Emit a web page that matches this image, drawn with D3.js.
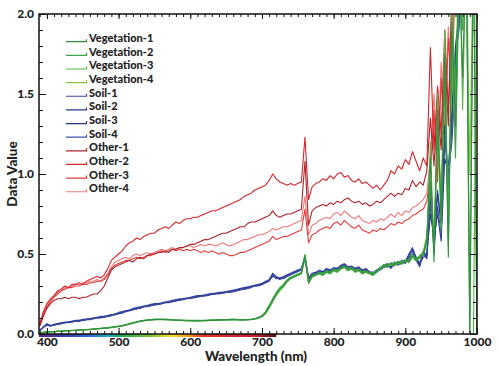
<!DOCTYPE html>
<html><head><meta charset="utf-8">
<script src="https://cdn.jsdelivr.net/npm/d3@7"></script>
<style>
body{margin:0;background:#fff;}
svg text{font-family:Lato,"Open Sans",sans-serif;font-weight:900;fill:#222;}
</style>
</head><body><svg id="chart" width="500" height="366"></svg>
<script>
const wavelengths = [390,395,400,405,410,415,420,425,430,435,440,445,450,455,460,465,470,475,480,485,490,495,500,505,510,515,520,525,530,535,540,545,550,555,560,565,570,575,580,585,590,595,600,605,610,615,620,625,630,635,640,645,650,655,660,665,670,675,680,685,690,695,700,705,710,715,720,725,730,735,740,745,750,755,760,765,770,775,780,785,790,795,800,805,810,815,820,825,830,835,840,845,850,855,860,865,870,875,880,885,890,895,900,905,910,915,920,925,930,935,940,945,950,955,960,965,970,975,980,985,990,995,1000];

const seriesNames = ["Vegetation-1","Vegetation-2","Vegetation-3","Vegetation-4","Soil-1","Soil-2","Soil-3","Soil-4","Other-1","Other-2","Other-3","Other-4"];
const seriesColors = ["#2f8f3e","#3aa845","#55b848","#86c440","#3a4aa0","#2b3990","#27338a","#4050b0","#b0232b","#d6262d","#e23d3d","#f07a7a"];

const vegetation1 = [0.005,0.01,0.012,0.014,0.015,0.017,0.018,0.02,0.02,0.022,
0.023,0.024,0.025,0.027,0.028,0.03,0.032,0.034,0.036,0.038,
0.041,0.044,0.047,0.051,0.056,0.062,0.068,0.074,0.079,0.083,
0.086,0.088,0.090,0.091,0.091,0.090,0.089,0.088,0.086,0.085,
0.084,0.083,0.083,0.082,0.082,0.083,0.083,0.084,0.085,0.086,
0.087,0.088,0.088,0.089,0.090,0.089,0.088,0.088,0.089,0.091,
0.094,0.10,0.11,0.13,0.17,0.21,0.25,0.28,0.30,0.33,
0.35,0.36,0.37,0.38,0.49,0.32,0.36,0.37,0.38,0.37,
0.39,0.38,0.40,0.39,0.41,0.42,0.40,0.41,0.39,0.40,
0.38,0.39,0.38,0.37,0.39,0.41,0.43,0.42,0.44,0.43,
0.45,0.44,0.46,0.45,0.49,0.46,0.48,0.50,0.58,1.10,
0.45,1.40,0.70,1.75,0.48,1.95,1.30,2.40,1.60,2.50,
-0.05,2.50,-0.05];
const vegetation2 = [0.006,0.011,0.013,0.015,0.016,0.018,0.019,0.021,0.022,0.023,
0.024,0.026,0.027,0.028,0.030,0.032,0.034,0.036,0.038,0.040,
0.043,0.046,0.050,0.054,0.059,0.065,0.071,0.077,0.082,0.086,
0.089,0.091,0.093,0.094,0.094,0.093,0.092,0.091,0.089,0.088,
0.087,0.086,0.086,0.085,0.085,0.086,0.086,0.087,0.088,0.089,
0.090,0.091,0.091,0.092,0.093,0.092,0.091,0.091,0.092,0.094,
0.097,0.104,0.115,0.14,0.18,0.22,0.26,0.29,0.31,0.34,
0.355,0.365,0.375,0.385,0.48,0.33,0.365,0.375,0.385,0.38,
0.395,0.39,0.405,0.40,0.415,0.425,0.41,0.415,0.40,0.405,
0.39,0.395,0.385,0.38,0.395,0.415,0.435,0.43,0.445,0.44,
0.455,0.45,0.465,0.46,0.50,0.47,0.49,0.51,0.60,0.95,
0.55,1.25,0.80,1.60,0.60,1.85,1.10,2.20,1.90,2.50,
0.10,2.50,2.50];
const vegetation3 = [0.004,0.009,0.011,0.013,0.014,0.016,0.017,0.019,0.019,0.021,
0.022,0.023,0.024,0.026,0.027,0.029,0.031,0.033,0.035,0.037,
0.040,0.043,0.046,0.050,0.055,0.061,0.067,0.073,0.078,0.082,
0.085,0.087,0.089,0.090,0.090,0.089,0.088,0.087,0.085,0.084,
0.083,0.082,0.082,0.081,0.081,0.082,0.082,0.083,0.084,0.085,
0.086,0.087,0.087,0.088,0.089,0.088,0.087,0.087,0.088,0.090,
0.093,0.099,0.108,0.125,0.16,0.20,0.24,0.27,0.295,0.325,
0.345,0.355,0.365,0.375,0.47,0.315,0.355,0.365,0.375,0.365,
0.385,0.375,0.395,0.385,0.405,0.415,0.395,0.405,0.385,0.395,
0.375,0.385,0.375,0.365,0.385,0.405,0.425,0.415,0.435,0.425,
0.445,0.435,0.455,0.445,0.48,0.455,0.475,0.495,0.56,1.20,
0.50,1.50,0.65,1.90,0.55,2.10,1.45,2.50,1.40,2.50,
-0.05,-0.05,2.50];
const vegetation4 = [0.005,0.010,0.012,0.014,0.015,0.017,0.018,0.020,0.021,0.022,
0.023,0.025,0.026,0.027,0.029,0.031,0.033,0.035,0.037,0.039,
0.042,0.045,0.048,0.052,0.057,0.063,0.069,0.075,0.080,0.084,
0.087,0.089,0.091,0.092,0.092,0.091,0.090,0.089,0.087,0.086,
0.085,0.084,0.084,0.083,0.083,0.084,0.084,0.085,0.086,0.087,
0.088,0.089,0.089,0.090,0.091,0.090,0.089,0.089,0.090,0.092,
0.095,0.102,0.112,0.135,0.175,0.215,0.255,0.285,0.305,0.335,
0.35,0.36,0.37,0.38,0.50,0.325,0.36,0.37,0.38,0.375,
0.39,0.385,0.40,0.395,0.41,0.42,0.405,0.41,0.395,0.40,
0.385,0.39,0.38,0.375,0.39,0.41,0.43,0.425,0.44,0.435,
0.45,0.445,0.46,0.455,0.495,0.465,0.485,0.505,0.62,1.00,
0.60,1.30,0.90,1.55,0.75,1.70,1.20,2.30,2.00,2.50,
1.00,2.50,-0.05];

const soil1 = [0.02,0.04,0.06,0.05,0.055,0.06,0.065,0.07,0.07,0.075,
0.08,0.08,0.085,0.09,0.09,0.095,0.10,0.105,0.11,0.11,
0.115,0.12,0.13,0.135,0.14,0.145,0.155,0.16,0.165,0.17,
0.175,0.18,0.18,0.185,0.19,0.195,0.20,0.20,0.21,0.215,
0.215,0.22,0.225,0.23,0.23,0.235,0.24,0.245,0.245,0.25,
0.25,0.255,0.26,0.26,0.265,0.27,0.275,0.28,0.285,0.29,
0.30,0.30,0.31,0.32,0.33,0.37,0.35,0.34,0.35,0.36,
0.37,0.38,0.39,0.40,0.48,0.34,0.37,0.38,0.39,0.38,
0.40,0.39,0.41,0.40,0.42,0.43,0.41,0.42,0.40,0.41,
0.39,0.40,0.38,0.37,0.39,0.40,0.42,0.43,0.41,0.44,
0.43,0.45,0.44,0.48,0.52,0.46,0.42,0.50,0.47,0.85,
0.55,0.80,0.62,1.25,0.95,1.30,1.70,1.95,2.30,2.50,
2.50,2.50,2.50];
const soil2 = [0.02,0.045,0.055,0.05,0.06,0.06,0.07,0.07,0.075,0.075,
0.08,0.085,0.085,0.09,0.095,0.095,0.10,0.10,0.105,0.11,
0.115,0.125,0.13,0.13,0.14,0.15,0.155,0.155,0.165,0.17,
0.17,0.18,0.185,0.19,0.19,0.195,0.195,0.205,0.21,0.21,
0.22,0.22,0.225,0.225,0.235,0.235,0.24,0.24,0.25,0.25,
0.255,0.255,0.26,0.265,0.265,0.27,0.28,0.28,0.285,0.295,
0.30,0.305,0.31,0.32,0.335,0.36,0.355,0.345,0.355,0.365,
0.375,0.385,0.39,0.405,0.47,0.35,0.375,0.385,0.385,0.39,
0.395,0.40,0.405,0.41,0.415,0.425,0.42,0.41,0.405,0.40,
0.40,0.395,0.385,0.38,0.385,0.405,0.415,0.425,0.42,0.43,
0.44,0.44,0.45,0.47,0.50,0.48,0.44,0.48,0.49,0.75,
0.60,0.75,0.58,1.10,1.00,1.20,1.60,2.10,2.40,2.50,
2.50,2.50,2.50];
const soil3 = [0.025,0.04,0.06,0.055,0.055,0.065,0.065,0.07,0.075,0.08,
0.08,0.08,0.09,0.09,0.095,0.10,0.10,0.105,0.105,0.115,
0.12,0.12,0.125,0.135,0.145,0.145,0.15,0.16,0.16,0.17,
0.175,0.175,0.185,0.185,0.19,0.20,0.20,0.205,0.205,0.215,
0.215,0.225,0.22,0.23,0.235,0.24,0.24,0.245,0.25,0.255,
0.255,0.26,0.26,0.265,0.27,0.275,0.28,0.285,0.29,0.295,
0.305,0.305,0.315,0.325,0.33,0.375,0.345,0.35,0.345,0.36,
0.37,0.385,0.395,0.40,0.49,0.345,0.365,0.375,0.39,0.385,
0.405,0.395,0.41,0.405,0.425,0.435,0.415,0.42,0.41,0.415,
0.395,0.405,0.385,0.375,0.395,0.41,0.43,0.435,0.415,0.445,
0.435,0.45,0.45,0.49,0.53,0.47,0.43,0.51,0.48,0.95,
0.50,0.88,0.68,1.30,0.90,1.40,1.80,2.00,2.40,2.50,
2.50,2.50,2.50];
const soil4 = [0.02,0.045,0.065,0.05,0.06,0.065,0.07,0.075,0.075,0.08,
0.085,0.085,0.09,0.095,0.095,0.10,0.105,0.11,0.11,0.115,
0.12,0.125,0.135,0.14,0.145,0.15,0.16,0.165,0.17,0.175,
0.18,0.185,0.19,0.19,0.195,0.20,0.205,0.21,0.215,0.22,
0.22,0.225,0.23,0.235,0.24,0.24,0.245,0.25,0.255,0.255,
0.26,0.26,0.265,0.27,0.275,0.28,0.285,0.29,0.295,0.30,
0.305,0.31,0.315,0.33,0.34,0.38,0.36,0.35,0.36,0.37,
0.38,0.39,0.40,0.41,0.48,0.35,0.38,0.385,0.40,0.39,
0.41,0.40,0.415,0.41,0.43,0.44,0.42,0.425,0.41,0.42,
0.40,0.41,0.39,0.385,0.40,0.415,0.43,0.44,0.42,0.45,
0.44,0.46,0.455,0.50,0.54,0.48,0.44,0.52,0.49,0.80,
0.65,0.90,0.70,1.20,1.05,1.35,1.75,1.90,2.30,2.50,
2.50,2.50,2.50];

const other1 = [0.05,0.11,0.16,0.19,0.21,0.22,0.22,0.23,0.22,0.23,
0.23,0.22,0.23,0.23,0.24,0.25,0.25,0.27,0.30,0.35,
0.40,0.42,0.43,0.44,0.45,0.46,0.45,0.47,0.48,0.47,
0.49,0.50,0.50,0.51,0.51,0.52,0.51,0.53,0.53,0.54,
0.54,0.55,0.56,0.56,0.57,0.58,0.59,0.59,0.60,0.61,
0.62,0.63,0.63,0.64,0.65,0.66,0.67,0.67,0.69,0.70,
0.70,0.71,0.72,0.73,0.74,0.77,0.74,0.73,0.74,0.75,
0.75,0.76,0.77,0.78,1.08,0.68,0.77,0.79,0.80,0.81,
0.80,0.82,0.81,0.83,0.82,0.84,0.85,0.83,0.82,0.83,
0.81,0.82,0.80,0.81,0.83,0.82,0.84,0.86,0.88,0.86,
0.88,0.87,0.91,0.90,0.96,0.92,0.95,0.93,1.02,1.35,
1.05,1.45,1.15,1.75,1.30,2.20,2.50,2.60,2.60,2.60,
2.60,2.60,2.60];
const other2 = [0.06,0.14,0.19,0.22,0.24,0.27,0.28,0.30,0.29,0.31,
0.31,0.32,0.31,0.33,0.34,0.35,0.36,0.35,0.37,0.41,
0.46,0.48,0.50,0.52,0.55,0.57,0.58,0.60,0.59,0.61,
0.62,0.63,0.63,0.65,0.66,0.67,0.66,0.68,0.70,0.69,
0.71,0.72,0.72,0.73,0.73,0.74,0.75,0.76,0.77,0.77,
0.78,0.79,0.80,0.81,0.82,0.83,0.84,0.86,0.87,0.88,
0.90,0.91,0.92,0.93,0.96,1.00,0.97,0.95,0.94,0.93,
0.94,0.93,0.94,0.95,1.23,0.84,0.92,0.94,0.95,0.97,
0.96,0.99,0.97,1.00,1.01,0.98,0.99,0.96,0.95,0.97,
0.94,0.95,0.93,0.91,0.93,0.90,0.93,0.96,1.02,1.00,
1.05,1.03,1.09,1.06,1.14,1.08,1.02,1.10,1.05,1.79,
1.15,1.55,1.25,1.90,1.40,1.95,2.40,2.60,2.60,2.60,
2.60,2.60,2.60];
const other3 = [0.05,0.12,0.17,0.20,0.23,0.25,0.27,0.28,0.29,0.29,
0.30,0.30,0.31,0.31,0.32,0.32,0.33,0.33,0.34,0.37,
0.41,0.43,0.44,0.45,0.46,0.46,0.47,0.48,0.47,0.48,
0.49,0.49,0.50,0.51,0.52,0.51,0.52,0.53,0.52,0.53,
0.52,0.53,0.52,0.53,0.52,0.51,0.52,0.51,0.52,0.51,
0.50,0.51,0.50,0.49,0.49,0.50,0.51,0.51,0.52,0.53,
0.54,0.55,0.56,0.57,0.58,0.61,0.59,0.60,0.61,0.61,
0.62,0.63,0.64,0.65,0.78,0.57,0.62,0.63,0.65,0.66,
0.67,0.66,0.69,0.70,0.68,0.71,0.69,0.67,0.66,0.68,
0.65,0.64,0.63,0.65,0.64,0.66,0.65,0.67,0.69,0.68,
0.70,0.69,0.71,0.72,0.74,0.75,0.77,0.78,0.83,1.00,
1.40,0.95,1.60,1.20,1.85,1.50,2.30,2.60,2.60,2.60,
2.60,2.60,2.60];
const other4 = [0.06,0.13,0.18,0.21,0.24,0.26,0.27,0.29,0.29,0.30,
0.31,0.31,0.32,0.32,0.33,0.33,0.34,0.33,0.35,0.38,
0.42,0.45,0.46,0.47,0.48,0.47,0.49,0.50,0.49,0.50,
0.51,0.50,0.51,0.52,0.53,0.52,0.53,0.54,0.53,0.54,
0.54,0.55,0.55,0.54,0.55,0.56,0.55,0.56,0.56,0.55,
0.56,0.57,0.56,0.55,0.56,0.57,0.58,0.59,0.59,0.60,
0.61,0.62,0.62,0.63,0.64,0.66,0.65,0.66,0.67,0.67,
0.68,0.69,0.70,0.71,0.86,0.62,0.68,0.69,0.71,0.72,
0.73,0.72,0.75,0.76,0.74,0.77,0.75,0.73,0.72,0.74,
0.71,0.70,0.69,0.71,0.70,0.72,0.71,0.73,0.75,0.73,
0.76,0.74,0.77,0.76,0.79,0.80,0.82,0.84,0.88,1.10,
1.50,1.05,1.70,1.30,1.92,1.60,2.40,2.60,2.60,2.60,
2.60,2.60,2.60];

const seriesValues = [vegetation1,vegetation2,vegetation3,vegetation4,soil1,soil2,soil3,soil4,other1,other2,other3,other4];

const xMajorTicks = [400,500,600,700,800,900,1000];
const yMajorTicks = [0.0,0.5,1.0,1.5,2.0];
const xLabel = "Wavelength (nm)";
const yLabel = "Data Value";
const spectrumStops = [[389,"#5b2a86"],[420,"#3a3aa8"],[460,"#2f6cc9"],[485,"#1fa9c9"],[505,"#21a84a"],[545,"#7dc242"],[572,"#f0e21e"],[595,"#f6a01e"],[620,"#e5352b"],[690,"#c8202a"],[720,"#5a1214"]];

const W = 500, H = 366;
const m = {left:39, top:14, right:23, bottom:32};
const svg = d3.select("#chart");
const x = d3.scaleLinear().domain([389,1000]).range([m.left, W - m.right]);
const y = d3.scaleLinear().domain([0,2]).range([H - m.bottom, m.top]);
const defs = svg.append("defs");

defs.append("clipPath").attr("id","clip")
  .append("rect").attr("x",m.left).attr("y",m.top)
  .attr("width",x.range()[1]-m.left).attr("height",y.range()[0]-m.top);

// lines
const line = d3.line().x((d,i)=>x(wavelengths[i])).y(d=>y(d));
const plotG = svg.append("g").attr("clip-path","url(#clip)");
const order = d3.range(seriesNames.length).reverse();
order.forEach(k=>{
  plotG.append("path").datum(seriesValues[k])
    .attr("d",line).attr("fill","none")
    .attr("stroke",seriesColors[k]).attr("stroke-width",1.1)
    .attr("stroke-linejoin","round");
});

// spectrum bar
const grad = defs.append("linearGradient").attr("id","spec")
  .attr("gradientUnits","userSpaceOnUse")
  .attr("x1",x(389)).attr("x2",x(720)).attr("y1",0).attr("y2",0);
spectrumStops.forEach(s=>grad.append("stop")
  .attr("offset",(x(s[0])-x(389))/(x(720)-x(389))).attr("stop-color",s[1]));
svg.append("rect").attr("x",x(389)).attr("y",y(0)).attr("width",x(720)-x(389)).attr("height",3)
  .attr("fill","url(#spec)");

// axes
const xMinor = d3.range(390,1001,10);
const yMinor = d3.range(0,2.0001,0.1);
const px0 = x.range()[0], px1 = x.range()[1], py0 = y.range()[0], py1 = y.range()[1];
svg.append("rect").attr("x",px0).attr("y",py1).attr("width",px1-px0).attr("height",py0-py1)
  .attr("fill","none").attr("stroke","#111").attr("stroke-width",1.5);

svg.append("g").attr("transform",`translate(0,${py0})`)
  .call(d3.axisBottom(x).tickValues(xMinor).tickSize(-3).tickFormat(""));
const bottomMaj = svg.append("g").attr("transform",`translate(0,${py0})`)
  .call(d3.axisBottom(x).tickValues(xMajorTicks).tickSize(-6).tickFormat(d3.format("d")));
svg.append("g").attr("transform",`translate(0,${py1})`)
  .call(d3.axisTop(x).tickValues(xMinor).tickSize(-3).tickFormat(""));
svg.append("g").attr("transform",`translate(0,${py1})`)
  .call(d3.axisTop(x).tickValues(xMajorTicks).tickSize(-5).tickFormat(""));
svg.append("g").attr("transform",`translate(${px0},0)`)
  .call(d3.axisLeft(y).tickValues(yMinor).tickSize(-4).tickFormat(""));
const leftMaj = svg.append("g").attr("transform",`translate(${px0},0)`)
  .call(d3.axisLeft(y).tickValues(yMajorTicks).tickSize(-7).tickFormat(d3.format(".1f")));
svg.append("g").attr("transform",`translate(${px1},0)`)
  .call(d3.axisRight(y).tickValues(yMinor).tickSize(-4).tickFormat(""));
svg.append("g").attr("transform",`translate(${px1},0)`)
  .call(d3.axisRight(y).tickValues(yMajorTicks).tickSize(-7).tickFormat(""));

svg.selectAll(".domain").remove();
svg.selectAll(".tick line").attr("stroke","#111").attr("stroke-width",1);
svg.selectAll(".tick text").attr("font-size",12).attr("font-family","Lato, sans-serif").attr("font-weight",900).attr("fill","#222");
leftMaj.selectAll(".tick text").attr("x",-5);
bottomMaj.selectAll(".tick text").attr("y",3.5);

// axis labels
svg.append("text").attr("x",(px0+px1)/2 - 2).attr("y",361).attr("text-anchor","middle")
  .attr("font-size",13.5).text(xLabel);
svg.append("text").attr("transform",`translate(17,${(py0+py1)/2}) rotate(-90)`).attr("text-anchor","middle")
  .attr("font-size",13.5).text(yLabel);

// legend
const lg = svg.append("g");
seriesNames.forEach((nm,i)=>{
  const yy = 41.7 + i*13.64;
  lg.append("path").attr("d",`M66,${yy}H86.5V${yy-2.5}`).attr("fill","none")
    .attr("stroke",seriesColors[i]).attr("stroke-width",1.2);
  lg.append("text").attr("x",89).attr("y",yy+0.5).attr("font-size",11).text(nm);
});
</script>
</body></html>
